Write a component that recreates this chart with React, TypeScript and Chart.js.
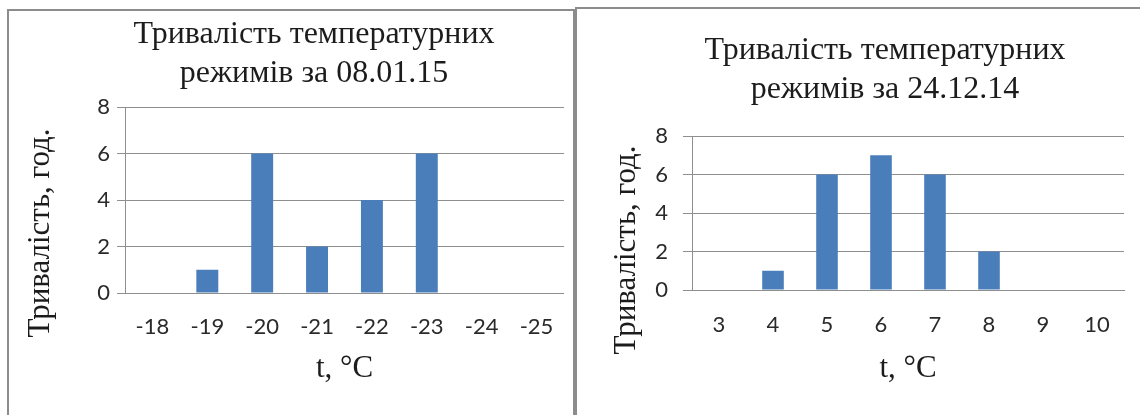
import { useEffect, useRef } from 'react';
import { Chart, registerables } from 'chart.js';

Chart.register(...registerables);

// Hours spent at each air temperature, two observation days
const janTitle = ['Тривалість температурних', 'режимів за 08.01.15'];
const janTemps = ['-18', '-19', '-20', '-21', '-22', '-23', '-24', '-25'];
const janHours = [0, 1, 6, 2, 4, 6, 0, 0];

const decTitle = ['Тривалість температурних', 'режимів за 24.12.14'];
const decTemps = ['3', '4', '5', '6', '7', '8', '9', '10'];
const decHours = [0, 1, 6, 7, 6, 2, 0, 0];

const hourAxisMax = 8;
const hourAxisStep = 2;
const hourAxisTitle = 'Тривалість, год.';
const tempAxisTitle = 't, °C';

const BAR_BLUE = '#4a7ebb';
const GRID_GRAY = '#8e8e8e';
const TEXT_DARK = '#1c1c1c';
const TICK_TEXT = '#2a2a2a';
const SERIF = '"Liberation Serif", "Times New Roman", serif';
const SANS = 'Lato, "Open Sans", sans-serif';

// Draws the two-line chart heading and the rotated value-axis caption
const headings = {
  id: 'headings',
  afterDraw(chart: any, _args: any, opts: any) {
    const ctx = chart.ctx as CanvasRenderingContext2D;
    ctx.save();
    ctx.fillStyle = TEXT_DARK;
    ctx.textAlign = 'center';
    ctx.textBaseline = 'alphabetic';
    ctx.font = `${opts.size}px ${SERIF}`;
    (opts.lines as string[]).forEach((line, i) => {
      ctx.fillText(line, opts.x, opts.y + i * opts.lineGap);
    });
    ctx.font = `${opts.axisSize}px ${SERIF}`;
    ctx.translate(opts.axisX, opts.axisY);
    ctx.rotate(-Math.PI / 2);
    ctx.fillText(opts.axisText, 0, 0);
    ctx.restore();
  },
};

type PanelSpec = {
  left: number;
  width: number;
  height: number;
  area: { left: number; top: number; right: number; bottom: number };
  labels: string[];
  values: number[];
  title: string[];
  titleX: number;
  titleY: number;
  axisTitleX: number;
  axisTitleY: number;
  tickSize: number;
  yTickSize: number;
  yTickPad: number;
  yTickLen: number;
  xTickPad: number;
};

const panels: PanelSpec[] = [
  {
    left: 0,
    width: 575,
    height: 415,
    area: { left: 125, top: 107, right: 565, bottom: 293 },
    labels: janTemps,
    values: janHours,
    title: janTitle,
    titleX: 314,
    titleY: 43,
    axisTitleX: 49,
    axisTitleY: 233,
    tickSize: 22,
    yTickSize: 22,
    yTickPad: 7,
    yTickLen: 8,
    xTickPad: 21,
  },
  {
    left: 575,
    width: 565,
    height: 415,
    area: { left: 117, top: 136, right: 549, bottom: 290 },
    labels: decTemps,
    values: decHours,
    title: decTitle,
    titleX: 310,
    titleY: 59,
    axisTitleX: 60,
    axisTitleY: 250,
    tickSize: 22,
    yTickSize: 22,
    yTickPad: 15,
    yTickLen: 9,
    xTickPad: 22,
  },
];

function BarPanel({ spec }: { spec: PanelSpec }) {
  const ref = useRef<HTMLCanvasElement>(null);

  useEffect(() => {
    const { area, width, height } = spec;
    const chart = new Chart(ref.current as HTMLCanvasElement, {
      type: 'bar',
      data: {
        labels: spec.labels,
        datasets: [
          {
            data: spec.values,
            backgroundColor: BAR_BLUE,
            borderWidth: 0,
            barPercentage: 0.4,
            categoryPercentage: 1,
          },
        ],
      },
      options: {
        responsive: false,
        animation: false,
        devicePixelRatio: 1,
        layout: {
          padding: { top: area.top, right: width - area.right, bottom: 0, left: 0 },
        },
        plugins: {
          legend: { display: false },
          tooltip: { enabled: false },
          headings: {
            lines: spec.title,
            x: spec.titleX,
            y: spec.titleY,
            lineGap: 39,
            size: 32,
            axisSize: 31,
            axisText: hourAxisTitle,
            axisX: spec.axisTitleX,
            axisY: spec.axisTitleY,
          },
        } as any,
        scales: {
          x: {
            grid: { display: false, drawTicks: false },
            border: { display: true, color: GRID_GRAY, width: 1 },
            ticks: {
              color: TICK_TEXT,
              padding: spec.xTickPad,
              maxRotation: 0,
              font: { family: SANS, size: spec.tickSize },
            },
            title: {
              display: true,
              text: tempAxisTitle,
              color: TEXT_DARK,
              font: { family: SERIF, size: 31 },
              padding: { top: 0, bottom: 28 },
            },
            afterFit: (scale: any) => {
              scale.height = height - area.bottom;
            },
          },
          y: {
            min: 0,
            max: hourAxisMax,
            grid: {
              color: GRID_GRAY,
              lineWidth: 1,
              drawTicks: true,
              tickLength: spec.yTickLen,
            },
            border: { display: true, color: GRID_GRAY, width: 1 },
            ticks: {
              stepSize: hourAxisStep,
              color: TICK_TEXT,
              padding: spec.yTickPad,
              font: { family: SANS, size: spec.yTickSize },
            },
            afterFit: (scale: any) => {
              scale.width = area.left;
            },
          },
        },
      },
      plugins: [headings],
    });
    return () => chart.destroy();
  }, [spec]);

  return (
    <canvas
      ref={ref}
      width={spec.width}
      height={spec.height}
      style={{ position: 'absolute', left: spec.left, top: 0, width: spec.width, height: spec.height }}
    />
  );
}

export default function App() {
  return (
    <div
      style={{
        position: 'absolute',
        left: 0,
        top: 0,
        width: 1140,
        height: 415,
        overflow: 'hidden',
        background: '#ffffff',
      }}
    >
      <div
        style={{
          position: 'absolute',
          left: 7,
          top: 9,
          width: 564,
          height: 420,
          borderLeft: '2px solid #8c8c8c',
          borderTop: '2px solid #8c8c8c',
          borderRight: '2px solid #8c8c8c',
        }}
      />
      <div
        style={{
          position: 'absolute',
          left: 575,
          top: 7,
          width: 580,
          height: 420,
          borderLeft: '2px solid #8c8c8c',
          borderTop: '2px solid #8c8c8c',
        }}
      />
      {panels.map((p) => (
        <BarPanel key={p.left} spec={p} />
      ))}
    </div>
  );
}
